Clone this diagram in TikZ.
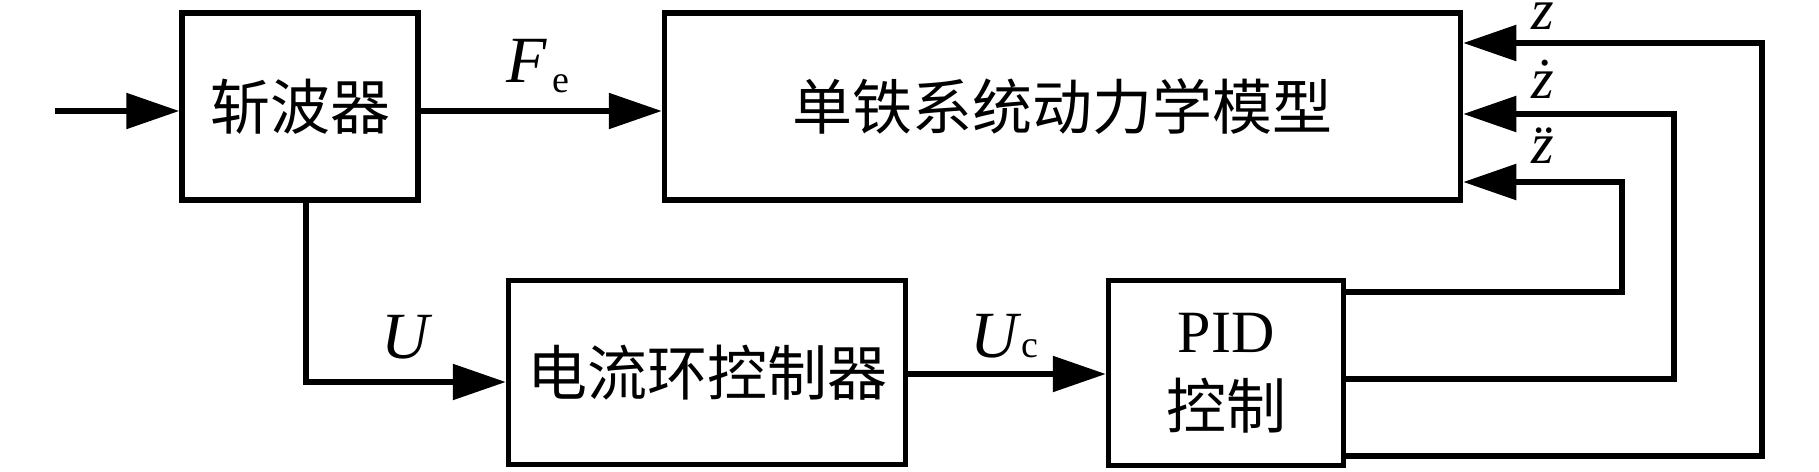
\documentclass[tikz,border=0pt]{standalone}
\usepackage{fontspec}
\setmainfont{Liberation Serif}
\newfontfamily\cjk{Noto Sans CJK SC}
\usetikzlibrary{arrows.meta}
\begin{document}
\begin{tikzpicture}[x=1pt,y=-1pt,
  lw/.style={line width=5.5pt,line join=miter},
  blk/.style={draw,lw,inner sep=0pt,align=center,
    font=\cjk\fontsize{60}{76}\selectfont},
  arr/.style={lw,-{Triangle[length=53pt,width=35pt]}},
  mathlbl/.style={inner sep=0pt,font=\fontsize{66}{70}\selectfont\itshape},
  zlbl/.style={inner sep=0pt,anchor=base,font=\fontsize{58}{60}\selectfont\itshape}]
\useasboundingbox (0,0) rectangle (1819,471);
% blocks
\node[blk,minimum width=236pt,minimum height=187pt] (chop) at (300,106.5) {斩波器};
\node[blk,minimum width=796pt,minimum height=187pt] (main) at (1062.5,106.5) {单铁系统动力学模型};
\node[blk,minimum width=397pt,minimum height=184pt] (cur) at (707,372.5) {电流环控制器};
\node[blk,minimum width=235pt,minimum height=185pt] (pid) at (1226,373)
  {{\rmfamily PID}\\控制};
% helper coordinates
\coordinate (in) at (55,111);
\coordinate (ud) at (306,382);
\coordinate (uc) at (0,374);
\coordinate (f1) at (1622,292);
\coordinate (f2) at (1674,379);
\coordinate (f3) at (1762,456);
\coordinate (t1) at (0,182);
\coordinate (t2) at (0,114);
\coordinate (t3) at (0,43);
% connectors
\draw[arr] (in) -- (in -| chop.west);
\draw[arr] (chop.east |- in) -- (main.west |- in);
\draw[arr] (chop.south -| ud) -- (ud) -- (cur.west |- ud);
\draw[arr] (cur.east |- uc) -- (pid.west |- uc);
\draw[arr] (pid.east |- f1) -- (f1) -- (f1 |- t1) -- (main.east |- t1);
\draw[arr] (pid.east |- f2) -- (f2) -- (f2 |- t2) -- (main.east |- t2);
\draw[arr] (pid.east |- f3) -- (f3) -- (f3 |- t3) -- (main.east |- t3);
% labels
\node[mathlbl,anchor=base west] (fe) at (506,82)
  {F\kern6pt\raisebox{-10pt}{\upshape\fontsize{38}{40}\selectfont e}};
\node[mathlbl,anchor=base west] (u) at (381,358) {U};
\node[mathlbl,anchor=base west] (ucl) at (970,357)
  {U\kern4pt{\upshape\fontsize{38}{40}\selectfont c}};
\node[zlbl] (z0) at (1543,29) {z};
\node[zlbl] (z1) at (1543,98) {\.{z}};
\node[zlbl] (z2) at (1543,163) {\"{z}};
\end{tikzpicture}
\end{document}
